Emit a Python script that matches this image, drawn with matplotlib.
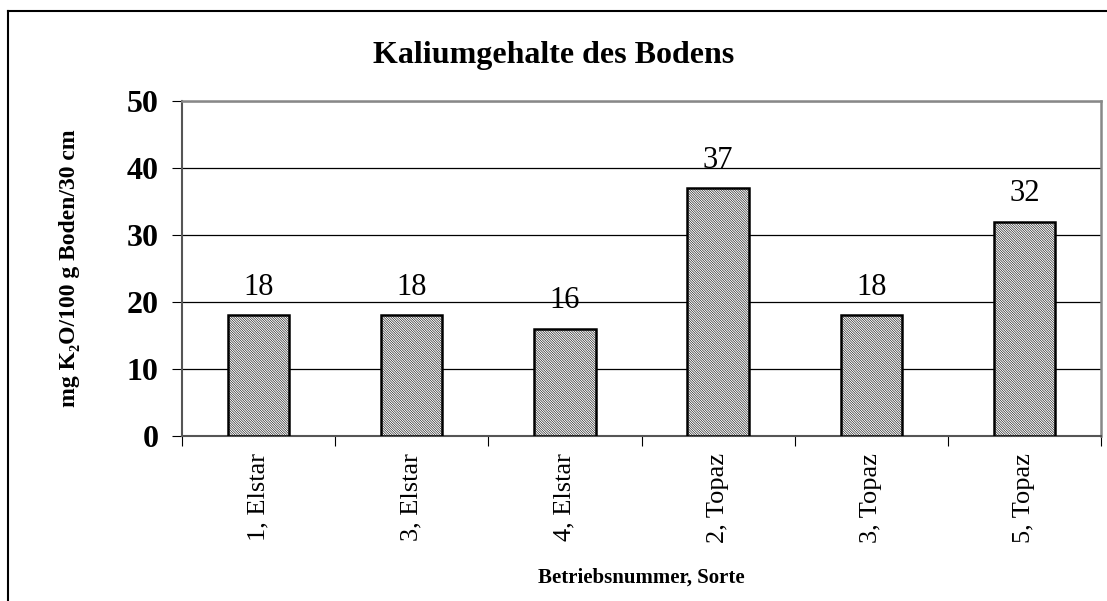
import matplotlib.pyplot as plt
from matplotlib.lines import Line2D
import numpy as np

plt.rcParams['font.family'] = ['Liberation Serif', 'DejaVu Serif']
plt.rcParams['hatch.linewidth'] = 0.4
plt.rcParams['hatch.color'] = '#8a8a8a'

# Daten
sorten = ['1, Elstar', '3, Elstar', '4, Elstar', '2, Topaz', '3, Topaz', '5, Topaz']
kalium = [18, 18, 16, 37, 18, 32]
yticks = [0, 10, 20, 30, 40, 50]

fig = plt.figure(figsize=(11.07, 6.01), dpi=100)
ax = fig.add_axes([182/1107, 1 - 436/601, 919/1107, 335/601])

x = np.arange(len(sorten))
bars = ax.bar(x, kalium, width=0.4, color='white', edgecolor='black',
              linewidth=1.8, hatch='\\' * 14, zorder=3)

for xi, v in zip(x, kalium):
    ax.text(xi, v + 2.0, str(v), ha='center', va='bottom', fontsize=22)

ax.set_xlim(-0.5, len(sorten) - 0.5)
ax.set_ylim(0, 50)
ax.set_yticks(yticks)
ax.set_yticklabels([str(t) for t in yticks], fontsize=23, fontweight='bold')
ax.yaxis.grid(True, color='black', linewidth=0.9)
ax.set_axisbelow(True)

ax.set_xticks(np.arange(len(sorten) + 1) - 0.5, minor=False)
ax.set_xticklabels([])
ax.set_xticks(x, minor=True)
ax.set_xticklabels(sorten, minor=True, rotation=90, fontsize=19)
ax.tick_params(axis='x', which='minor', length=0, pad=12)
ax.tick_params(axis='x', which='major', length=7, direction='out', color='black')
ax.tick_params(axis='y', length=7, direction='out', pad=10)

for s in ['top', 'right']:
    ax.spines[s].set_color('#888888')
    ax.spines[s].set_linewidth(1.8)
ax.spines['left'].set_color('#555555')
ax.spines['left'].set_linewidth(1.5)
ax.spines['bottom'].set_color('#555555')
ax.spines['bottom'].set_linewidth(1.5)

fig.text(554/1107, 1 - 55/601, 'Kaliumgehalte des Bodens', fontsize=23,
         fontweight='bold', ha='center', va='center')
ax.set_ylabel('mg K₂O/100 g Boden/30 cm', fontsize=17, fontweight='bold')
ax.yaxis.set_label_coords((70 - 182)/919, 0.5)
ax.yaxis.label.set_va('center')
ax.set_xlabel('Betriebsnummer, Sorte', fontsize=15, fontweight='bold')
ax.xaxis.set_label_coords(0.5, (436 - 578)/335)
ax.xaxis.label.set_va('center')

# Rahmen (nur oben und links sichtbar)
fig.add_artist(Line2D([8/1107, 1.0], [1 - 11/601, 1 - 11/601], transform=fig.transFigure,
                      color='black', linewidth=1.5))
fig.add_artist(Line2D([8/1107, 8/1107], [0.0, 1 - 11/601], transform=fig.transFigure,
                      color='black', linewidth=1.5))

fig.savefig('out.png', dpi=100)
